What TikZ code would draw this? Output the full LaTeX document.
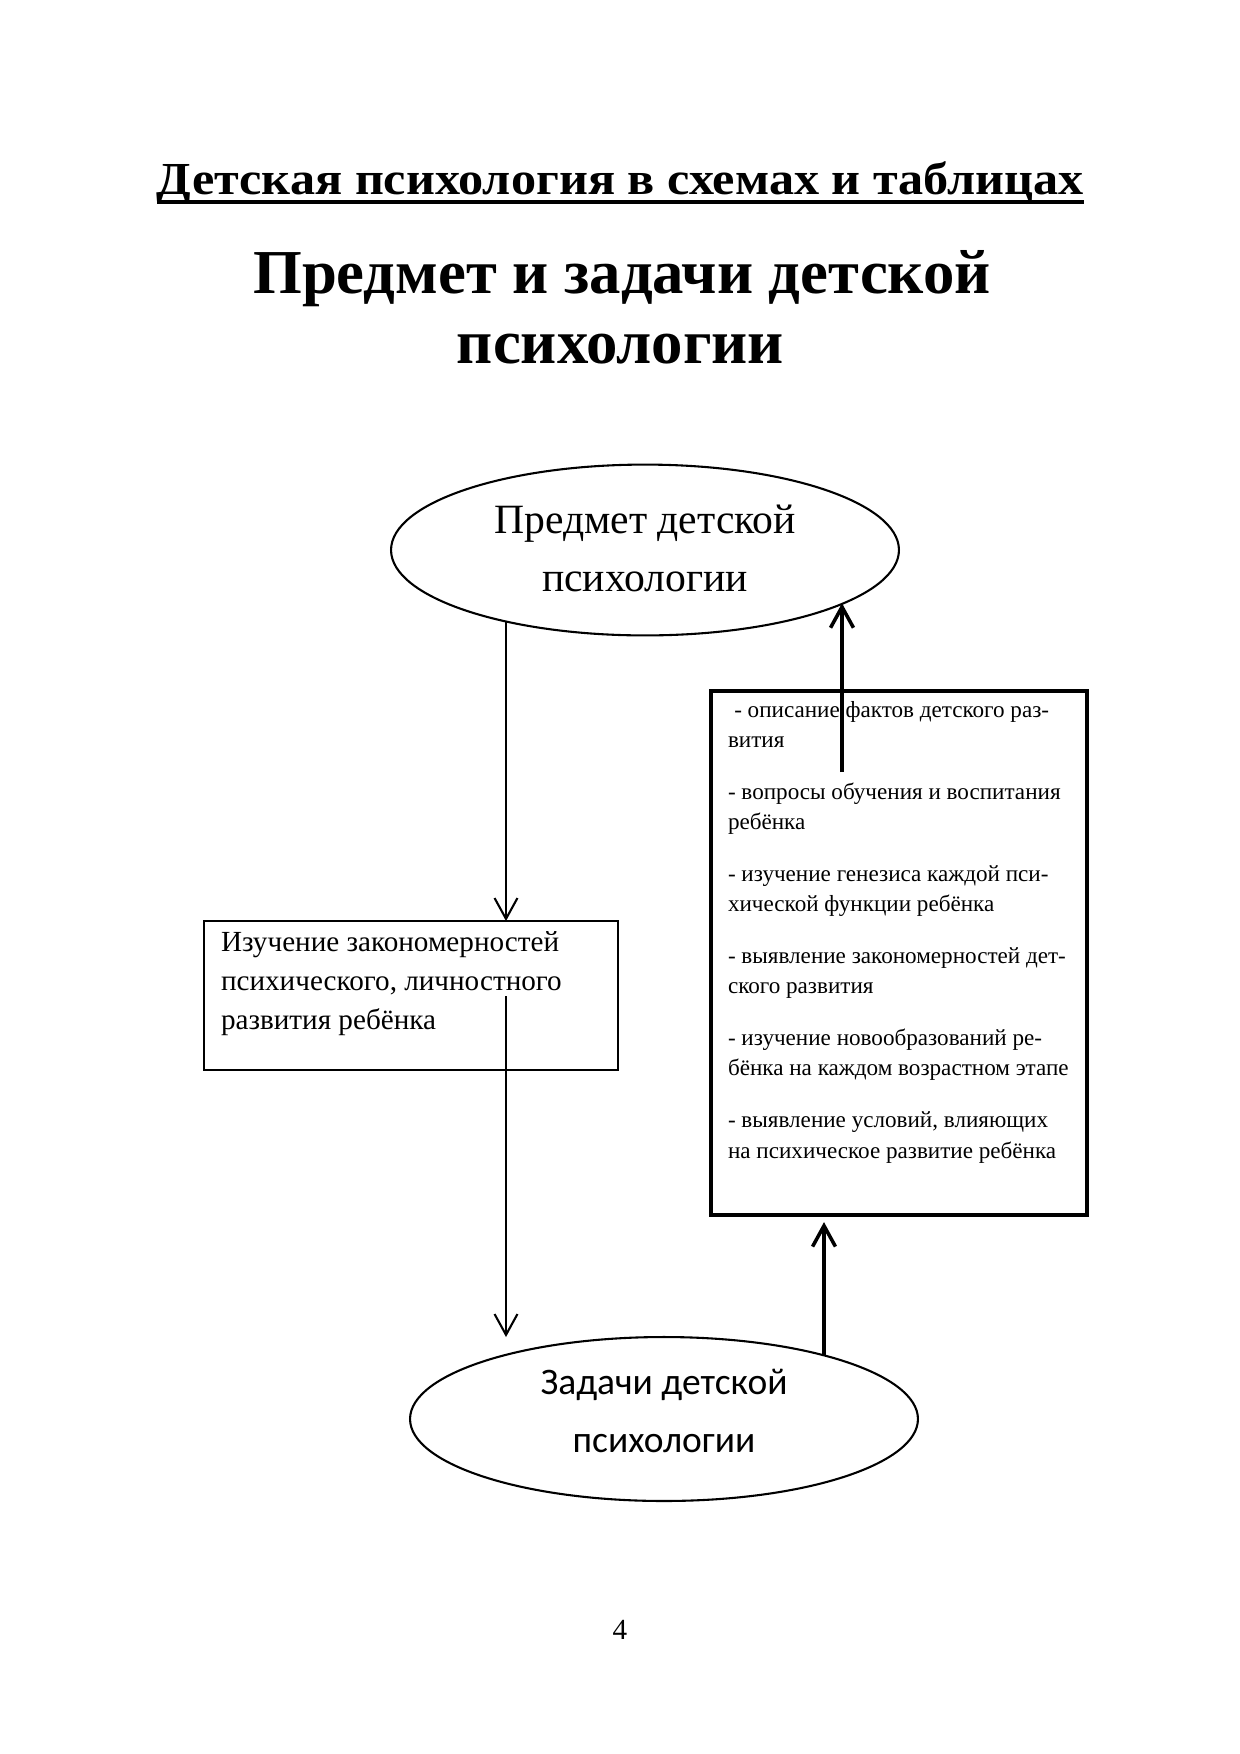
\documentclass[tikz,border=0pt]{standalone}
\usepackage{fontspec}
\usepackage{graphicx}
\setmainfont{Liberation Serif}
\newfontfamily\calibfont{Carlito}
\usetikzlibrary{shapes.geometric,arrows.meta}
\begin{document}
\begin{tikzpicture}[x=0.48pt,y=-0.48pt,
  every node/.style={inner sep=0pt, outer sep=0pt},
  ell/.style={draw, line width=1pt, ellipse, inner sep=0pt, align=center},
  boxthin/.style={draw, line width=1.2pt, rectangle},
  boxthick/.style={draw, line width=1.9pt, rectangle},
  arrthin/.style={line width=1pt, -{Straight Barb[length=10pt,width=11pt]}},
  arrthick/.style={line width=1.7pt, -{Straight Barb[length=10pt,width=11pt]}},
  txt/.style={anchor=base west, align=left}]
\useasboundingbox[fill=white] (0,0) rectangle (1240,1754);

% titles
\node[anchor=base, font=\fontsize{22}{26}\selectfont\bfseries] (t1) at (620.5,194)
  {\resizebox{445pt}{\height}{Детская психология в схемах и таблицах}};
\draw[line width=1.8pt] ([yshift=-3.9pt]t1.base west) -- ([yshift=-3.9pt]t1.base east);
\node[anchor=base, font=\fontsize{30}{34}\selectfont\bfseries] (t2) at (622,293)
  {\resizebox{354pt}{\height}{Предмет и задачи детской}};
\node[anchor=base, font=\fontsize{30}{34}\selectfont\bfseries] (t3) at (620.5,363)
  {\resizebox{157pt}{\height}{психологии}};

% ellipses
\node[ell, minimum width=243.8pt, minimum height=82pt, font=\fontsize{20}{28}\selectfont]
  (topell) at (645,550) {Предмет детской\\психологии\rule[-2pt]{0pt}{0pt}};
\node[ell, minimum width=243.8pt, minimum height=78.7pt, font=\calibfont\fontsize{18}{28}\selectfont]
  (botell) at (664,1419) {Задачи детской\\психологии\rule[-8pt]{0pt}{0pt}};

% left box
\node[boxthin, minimum width=198.7pt, minimum height=71.5pt] (lbox) at (411,995.5) {};
\node[txt, font=\fontsize{14}{18.5}\selectfont] (ltext) at (221,1029)
  {Изучение закономерностей\\психического, личностного\\развития ребёнка};

% right box
\node[boxthick, minimum width=180.5pt, minimum height=251.5pt] (rbox) at (899,953) {};
\node[txt, font=\fontsize{11.1}{14.6}\selectfont] (rtext) at (728,1158)
  {\hspace*{3pt}- описание фактов детского раз-\\вития\\[10.2pt]
   - вопросы обучения и воспитания\\ребёнка\\[10.2pt]
   - изучение генезиса каждой пси-\\хической функции ребёнка\\[10.2pt]
   - выявление закономерностей дет-\\ского развития\\[10.2pt]
   - изучение новообразований ре-\\бёнка на каждом возрастном этапе\\[10.2pt]
   - выявление условий, влияющих\\на психическое развитие ребёнка};

% page number
\node[anchor=base, font=\fontsize{14}{16}\selectfont] (pg) at (620,1639) {4};

% connectors
\coordinate (colL) at (506,0);
\coordinate (colR) at (824,0);
\coordinate (colT) at (842,0);
\coordinate (a2) at (506,996);
\coordinate (a4) at (842,772);
\draw[arrthin] (colL |- topell.-152.8) -- (lbox.north -| colL);
\draw[arrthin] (a2) -- (botell.north -| colL);
\draw[arrthick, shorten >=3.4pt] (colR |- botell.21.7) -- (rbox.south -| colR);
\draw[arrthick] (a4) -- (colT |- topell.-15.3);
\end{tikzpicture}
\end{document}
